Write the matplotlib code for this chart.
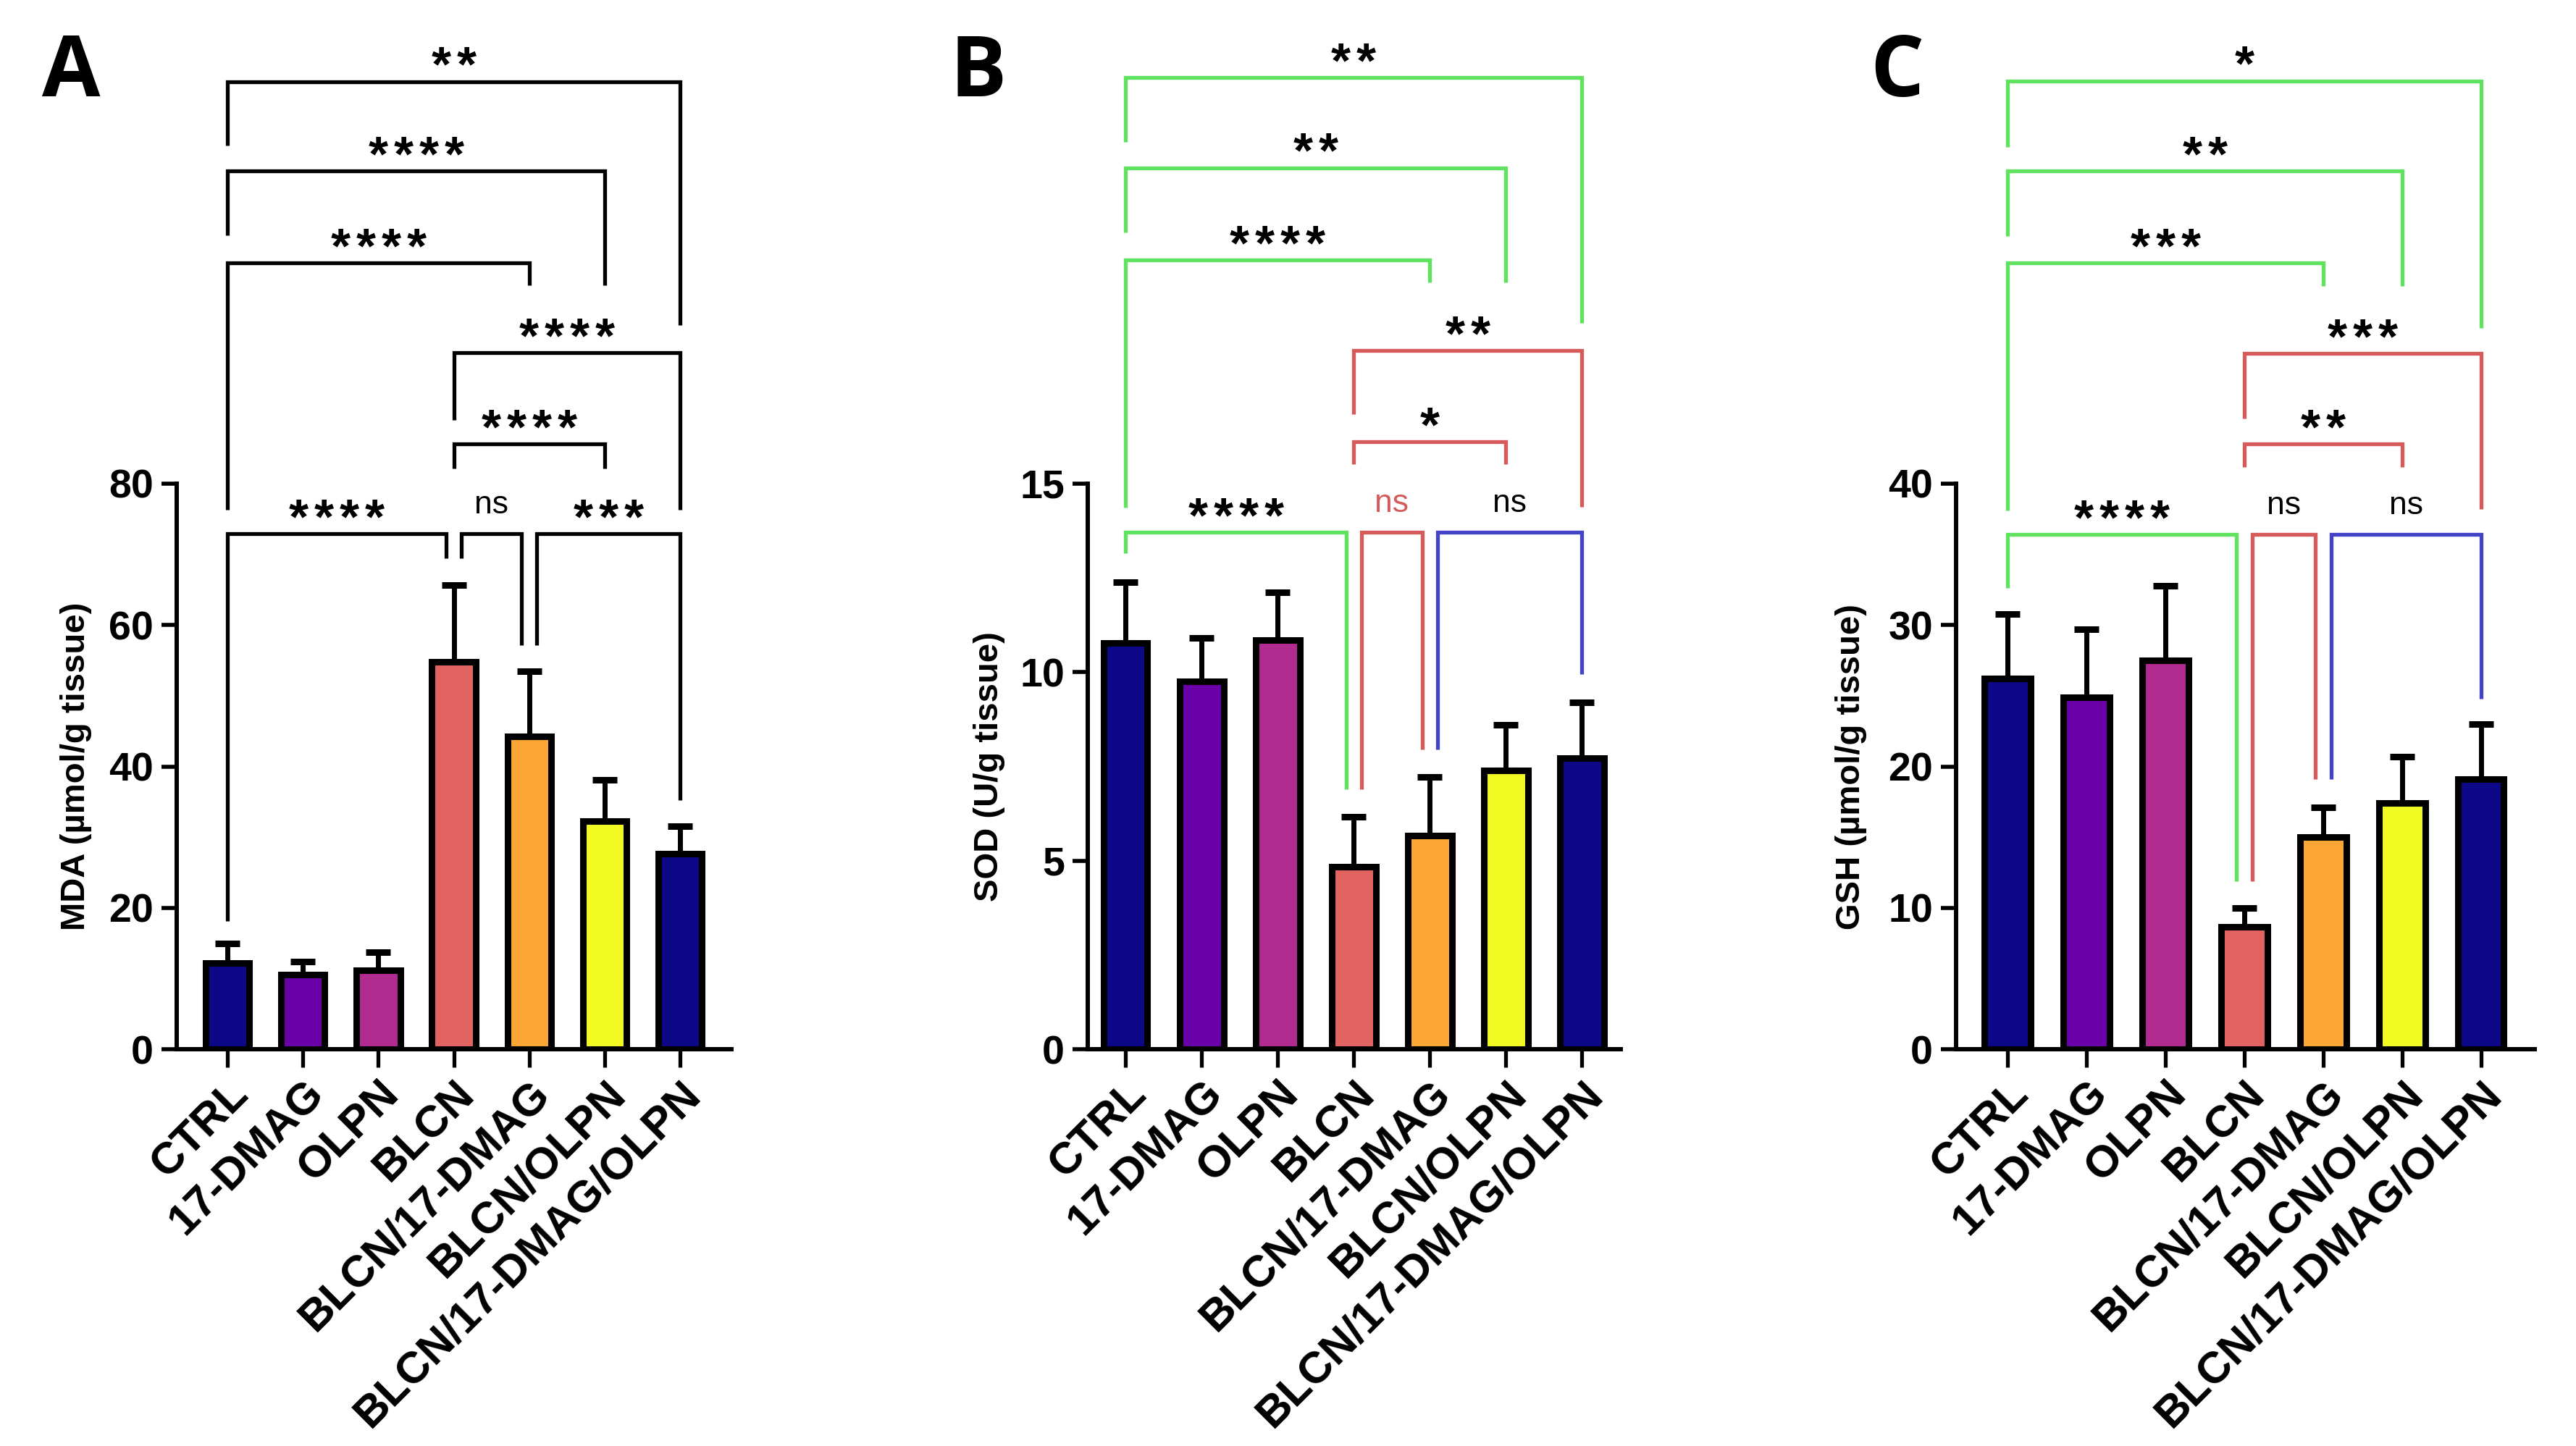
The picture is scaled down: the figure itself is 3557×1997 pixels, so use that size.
import matplotlib
matplotlib.use("Agg")
import matplotlib.pyplot as plt

# ---------------- data ----------------
groups = ["CTRL", "17-DMAG", "OLPN", "BLCN", "BLCN/17-DMAG", "BLCN/OLPN", "BLCN/17-DMAG/OLPN"]
bar_colors = ["#0d0887", "#6a00a8", "#b12a90", "#e16462", "#fca636", "#f0f921", "#0d0887"]

mda_mean = [12.2, 10.5, 11.2, 54.8, 44.3, 32.3, 27.7]
mda_err = [2.8, 1.9, 2.5, 10.9, 9.2, 5.8, 3.8]
sod_mean = [10.77, 9.76, 10.86, 4.84, 5.67, 7.40, 7.73]
sod_err = [1.62, 1.15, 1.25, 1.33, 1.56, 1.20, 1.47]
gsh_mean = [26.2, 24.9, 27.5, 8.66, 15.0, 17.4, 19.1]
gsh_err = [4.6, 4.8, 5.3, 1.34, 2.1, 3.3, 3.9]

# significance labels (group i, group j, label)
mda_sig = [(0, 3, "****"), (3, 4, "ns"), (4, 6, "***"), (3, 5, "****"),
           (3, 6, "****"), (0, 4, "****"), (0, 5, "****"), (0, 6, "**")]
sod_sig = [(0, 3, "****"), (3, 4, "ns"), (4, 6, "ns"), (3, 5, "*"),
           (3, 6, "**"), (0, 4, "****"), (0, 5, "**"), (0, 6, "**")]
gsh_sig = [(0, 3, "****"), (3, 4, "ns"), (4, 6, "ns"), (3, 5, "**"),
           (3, 6, "***"), (0, 4, "***"), (0, 5, "**"), (0, 6, "*")]

# ---------------- styling / layout ----------------
GREEN, RED, BLUE, BLACK = "#5fe35f", "#d65a5a", "#4343c8", "black"
FONT = "Liberation Sans"
W, H = 3557, 1997

# bracket geometry per panel: (level, left leg bottom, right leg bottom,
#                             dx left, dx right, line colour, text colour)
mda_geo = [(72.9, 18.1, 69.4, 0, -0.1, BLACK, BLACK),
           (72.9, 69.4, 57.2, 0.1, -0.1, BLACK, BLACK),
           (72.9, 57.2, 35.2, 0.1, 0, BLACK, BLACK),
           (85.6, 82.2, 82.2, 0, 0, BLACK, BLACK),
           (98.5, 89.0, 76.3, 0, 0, BLACK, BLACK),
           (111.2, 76.3, 108.1, 0, 0, BLACK, BLACK),
           (124.2, 115.1, 108.1, 0, 0, BLACK, BLACK),
           (136.9, 127.8, 102.4, 0, 0, BLACK, BLACK)]
sod_geo = [(13.71, 13.16, 6.90, 0, -0.1, GREEN, BLACK),
           (13.71, 6.90, 7.95, 0.1, -0.1, RED, RED),
           (13.71, 7.95, 9.94, 0.1, 0, BLUE, BLACK),
           (16.11, 15.52, 15.52, 0, 0, RED, BLACK),
           (18.53, 16.84, 14.39, 0, 0, RED, BLACK),
           (20.93, 14.36, 20.34, 0, 0, GREEN, BLACK),
           (23.38, 21.66, 20.34, 0, 0, GREEN, BLACK),
           (25.77, 24.06, 19.27, 0, 0, GREEN, BLACK)]
gsh_geo = [(36.4, 32.6, 11.9, 0, -0.1, GREEN, BLACK),
           (36.4, 11.9, 19.1, 0.1, -0.1, RED, BLACK),
           (36.4, 19.1, 24.8, 0.1, 0, BLUE, BLACK),
           (42.8, 41.2, 41.2, 0, 0, RED, BLACK),
           (49.2, 44.6, 38.2, 0, 0, RED, BLACK),
           (55.6, 38.1, 54.0, 0, 0, GREEN, BLACK),
           (62.1, 57.5, 54.0, 0, 0, GREEN, BLACK),
           (68.5, 63.8, 51.0, 0, 0, GREEN, BLACK)]

panels = [
    dict(letter="A", mean=mda_mean, err=mda_err, sig=mda_sig, geo=mda_geo,
         ylabel="MDA (µmol/g tissue)", ymax=80, step=20,
         axl=244, axr=1010, xl=-0.672, xr=6.68, letter_x=58, lab_x=105),
    dict(letter="B", mean=sod_mean, err=sod_err, sig=sod_sig, geo=sod_geo,
         ylabel="SOD (U/g tissue)", ymax=15, step=5,
         axl=1502, axr=2238, xl=-0.495, xr=6.51, letter_x=1312, lab_x=1366),
    dict(letter="C", mean=gsh_mean, err=gsh_err, sig=gsh_sig, geo=gsh_geo,
         ylabel="GSH (µmol/g tissue)", ymax=40, step=10,
         axl=2701, axr=3500, xl=-0.651, xr=6.68, letter_x=2582, lab_x=2556),
]

ZERO_Y, TOPTICK_Y, AX_TOP = 1449, 668, 30
STAR_PITCH = 35  # pixels between asterisks

fig = plt.figure(figsize=(W / 100, H / 100), dpi=100)

for p in panels:
    left = p["axl"] / W
    width = (p["axr"] - p["axl"]) / W
    bottom = (H - ZERO_Y) / H
    height = (ZERO_Y - AX_TOP) / H
    ax = fig.add_axes([left, bottom, width, height])
    ytop = p["ymax"] * (ZERO_Y - AX_TOP) / (ZERO_Y - TOPTICK_Y)
    ax.set_ylim(0, ytop)
    ax.set_xlim(p["xl"], p["xr"])
    x = list(range(len(groups)))

    ax.bar(x, p["mean"], width=0.58, color=bar_colors, edgecolor="black",
           linewidth=6.5, zorder=3)
    ax.errorbar(x, p["mean"], yerr=[[0] * len(x), p["err"]], fmt="none",
                ecolor="black", elinewidth=5, capsize=12.5, capthick=6.5,
                zorder=2)

    for spine in ["top", "right"]:
        ax.spines[spine].set_visible(False)
    ax.spines["left"].set_bounds(0, p["ymax"])
    ax.spines["left"].set_linewidth(4.3)
    ax.spines["bottom"].set_linewidth(4.3)
    ax.set_yticks(list(range(0, p["ymax"] + 1, p["step"])))
    ax.tick_params(axis="y", length=15, width=4, pad=8)
    ax.tick_params(axis="x", length=18, width=3.8, pad=6)
    for lab in ax.get_yticklabels():
        lab.set_fontfamily(FONT)
        lab.set_fontweight("bold")
        lab.set_fontsize(40)
    ax.set_xticks(x)
    ax.set_xticklabels(groups, rotation=45, ha="right", va="top",
                       rotation_mode="anchor", fontfamily=FONT,
                       fontweight="bold", fontsize=44)

    # y label centred on the spine
    ax.text((p["lab_x"] - p["axl"]) / (p["axr"] - p["axl"]),
            (p["ymax"] / 2) / ytop, p["ylabel"], transform=ax.transAxes,
            rotation=90, ha="center", va="center", fontfamily=FONT,
            fontweight="bold", fontsize=34)

    # significance brackets
    for (i, j, lab), (lvl, lb, rb, dl, dr, lc, tc) in zip(p["sig"], p["geo"]):
        xa, xb = i + dl, j + dr
        ax.plot([xa, xa, xb, xb], [lb, lvl, lvl, rb], color=lc, lw=3.8,
                solid_joinstyle="miter", solid_capstyle="butt",
                clip_on=False, zorder=4)
        xm = (xa + xb) / 2
        if lab == "ns":
            ax.annotate(lab, (xm, lvl), xytext=(0, 28),
                        textcoords="offset pixels", ha="center", va="baseline",
                        fontfamily=FONT, fontsize=32, color=tc,
                        annotation_clip=False)
        else:
            n = len(lab)
            for k in range(n):
                ax.annotate("*", (xm, lvl),
                            xytext=((k - (n - 1) / 2) * STAR_PITCH, 1),
                            textcoords="offset pixels", ha="center",
                            va="baseline", fontfamily=FONT, fontweight="bold",
                            fontsize=50, color=tc, annotation_clip=False)

    fig.text(p["letter_x"] / W, 1 - 133 / H, p["letter"], ha="left",
             va="baseline", fontfamily="Open Sans", fontweight="bold",
             fontsize=84)

fig.savefig("out.png", dpi=100, facecolor="white")
